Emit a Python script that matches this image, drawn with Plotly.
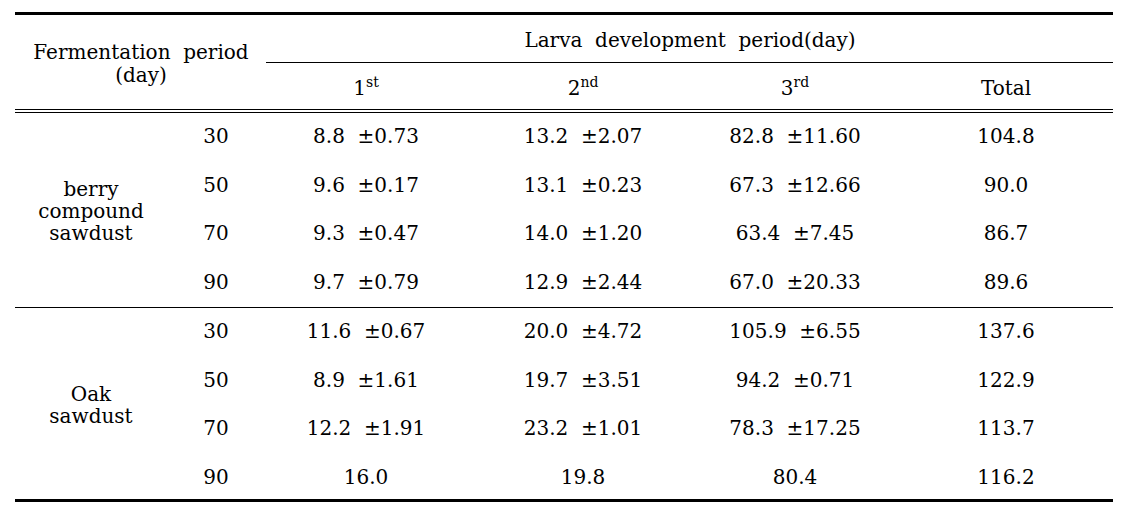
import plotly.graph_objects as go

# ---- data ----
group_labels = [["berry", "compound", "sawdust"], ["Oak", "sawdust"]]
periods = [30, 50, 70, 90, 30, 50, 70, 90]
stage1_mean = [8.8, 9.6, 9.3, 9.7, 11.6, 8.9, 12.2, 16.0]
stage1_sd = [0.73, 0.17, 0.47, 0.79, 0.67, 1.61, 1.91, None]
stage2_mean = [13.2, 13.1, 14.0, 12.9, 20.0, 19.7, 23.2, 19.8]
stage2_sd = [2.07, 0.23, 1.20, 2.44, 4.72, 3.51, 1.01, None]
stage3_mean = [82.8, 67.3, 63.4, 67.0, 105.9, 94.2, 78.3, 80.4]
stage3_sd = [11.60, 12.66, 7.45, 20.33, 6.55, 0.71, 17.25, None]
totals = [104.8, 90.0, 86.7, 89.6, 137.6, 122.9, 113.7, 116.2]
col_headers = ["1<sup>st</sup>", "2<sup>nd</sup>", "3<sup>rd</sup>", "Total"]
spanner = "Larva\u00a0 development\u00a0 period(day)"
stub_header = ["Fermentation\u00a0 period", "(day)"]

# ---- layout constants ----
W, H = 1138, 505
PAGE_MARGIN = 8  # browser default body margin
FONT = dict(family="DejaVu Serif", size=20, color="black")
X_L, X_R = 15, 1113
X_GROUP, X_PERIOD = 91, 216
X_COLS = [366, 583, 795, 1006]
ROW_Y0, ROW_PITCH = 138, 48.7
LINE_H = 22
NB = "\u00a0"


def cell(m, s):
    if s is None:
        return f"{m:.1f}"
    return f"{m:.1f}{NB}{NB}±{s:.2f}"


fig = go.Figure()


def add_text(xs, ys, texts):
    fig.add_trace(go.Scatter(x=xs, y=ys, text=texts, mode="text",
                             textposition="middle center", textfont=FONT,
                             hoverinfo="skip", showlegend=False))


row_y = [ROW_Y0 + i * ROW_PITCH for i in range(len(periods))]

# body
add_text([X_PERIOD] * len(periods), row_y, [str(p) for p in periods])
for xc, means, sds in [(X_COLS[0], stage1_mean, stage1_sd),
                       (X_COLS[1], stage2_mean, stage2_sd),
                       (X_COLS[2], stage3_mean, stage3_sd)]:
    add_text([xc] * len(means), row_y, [cell(m, s) for m, s in zip(means, sds)])
add_text([X_COLS[3]] * len(totals), row_y, [f"{t:.1f}" for t in totals])

# group labels
for gi, lines in enumerate(group_labels):
    rows = row_y[gi * 4:(gi + 1) * 4]
    mid = (rows[0] + rows[-1]) / 2 + 1.5
    ys = [mid + (k - (len(lines) - 1) / 2) * LINE_H for k in range(len(lines))]
    add_text([X_GROUP] * len(lines), ys, lines)

# headers
add_text([141, 141], [54, 77], stub_header)
add_text([690], [42], [spanner])
add_text(X_COLS, [90] * 4, col_headers)

# rules
thin = dict(color="black", width=1)
shapes = [
    dict(type="line", x0=X_L, x1=X_R, y0=13.5, y1=13.5, line=dict(color="black", width=3)),
    dict(type="line", x0=266, x1=X_R, y0=62.5, y1=62.5, line=thin),
    dict(type="line", x0=X_L, x1=X_R, y0=109.5, y1=109.5, line=thin),
    dict(type="line", x0=X_L, x1=X_R, y0=112.5, y1=112.5, line=thin),
    dict(type="line", x0=X_L, x1=X_R, y0=307.5, y1=307.5, line=thin),
    dict(type="line", x0=X_L, x1=X_R, y0=500.5, y1=500.5, line=dict(color="black", width=3)),
]

fig.update_layout(
    width=W - PAGE_MARGIN, height=H - PAGE_MARGIN,
    margin=dict(l=0, r=0, t=0, b=0),
    paper_bgcolor="white", plot_bgcolor="white",
    xaxis=dict(range=[PAGE_MARGIN, W], visible=False, fixedrange=True),
    yaxis=dict(range=[H, PAGE_MARGIN], visible=False, fixedrange=True),
    shapes=shapes,
    showlegend=False,
)
fig.write_html("out.html")
